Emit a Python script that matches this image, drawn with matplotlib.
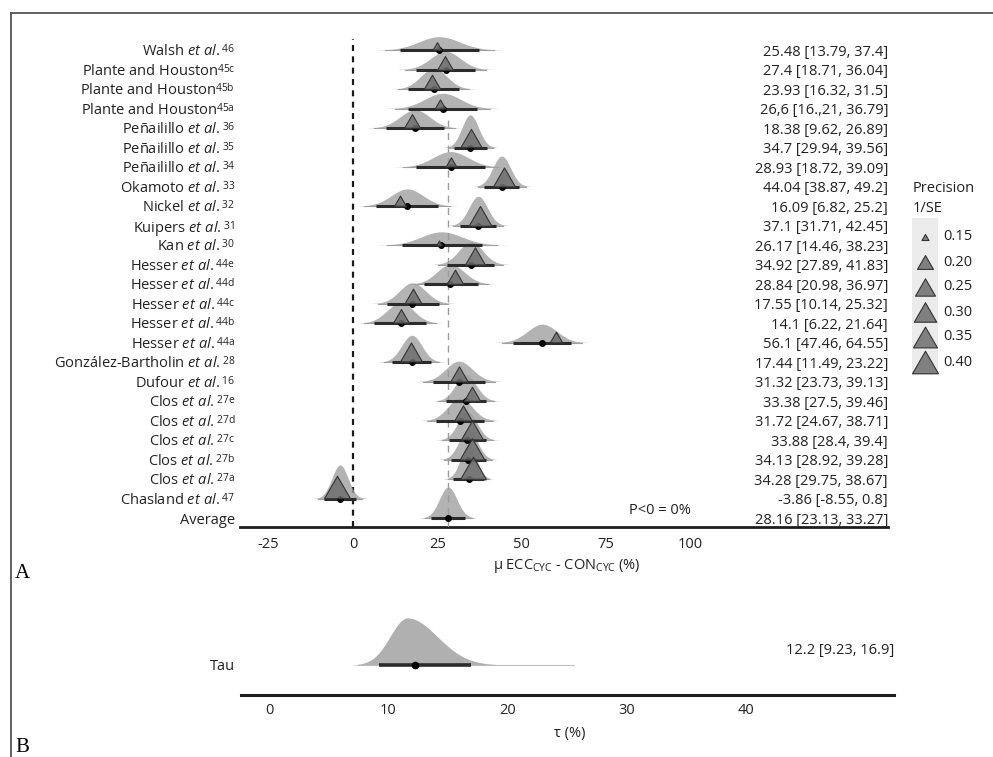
import numpy as np
import matplotlib.pyplot as plt
from matplotlib.path import Path
from matplotlib.lines import Line2D
from matplotlib.patches import Rectangle
from matplotlib.transforms import offset_copy, blended_transform_factory

plt.rcParams['font.family'] = 'Open Sans'
plt.rcParams['mathtext.fontset'] = 'custom'
plt.rcParams['mathtext.rm'] = 'Open Sans'
plt.rcParams['mathtext.it'] = 'Open Sans:italic'
plt.rcParams['mathtext.bf'] = 'Open Sans:bold'

# lower the superscripts a bit (closer to the typeset look)
try:
    import matplotlib._mathtext as mt

    class OpenSansConsts(mt.FontConstantsBase):
        sup1 = 0.42

    mt._font_constant_mapping['Open Sans'] = OpenSansConsts
except Exception:
    pass

# ---- data (top row first) ----
study_labels = [
    r"Walsh $\mathit{et\ al.}^{\mathrm{46}}$",
    r"Plante and Houston$^{\mathrm{45c}}$",
    r"Plante and Houston$^{\mathrm{45b}}$",
    r"Plante and Houston$^{\mathrm{45a}}$",
    r"Peñailillo $\mathit{et\ al.}^{\mathrm{36}}$",
    r"Peñailillo $\mathit{et\ al.}^{\mathrm{35}}$",
    r"Peñailillo $\mathit{et\ al.}^{\mathrm{34}}$",
    r"Okamoto $\mathit{et\ al.}^{\mathrm{33}}$",
    r"Nickel $\mathit{et\ al.}^{\mathrm{32}}$",
    r"Kuipers $\mathit{et\ al.}^{\mathrm{31}}$",
    r"Kan $\mathit{et\ al.}^{\mathrm{30}}$",
    r"Hesser $\mathit{et\ al.}^{\mathrm{44e}}$",
    r"Hesser $\mathit{et\ al.}^{\mathrm{44d}}$",
    r"Hesser $\mathit{et\ al.}^{\mathrm{44c}}$",
    r"Hesser $\mathit{et\ al.}^{\mathrm{44b}}$",
    r"Hesser $\mathit{et\ al.}^{\mathrm{44a}}$",
    r"González-Bartholin $\mathit{et\ al.}^{\mathrm{28}}$",
    r"Dufour $\mathit{et\ al.}^{\mathrm{16}}$",
    r"Clos $\mathit{et\ al.}^{\mathrm{27e}}$",
    r"Clos $\mathit{et\ al.}^{\mathrm{27d}}$",
    r"Clos $\mathit{et\ al.}^{\mathrm{27c}}$",
    r"Clos $\mathit{et\ al.}^{\mathrm{27b}}$",
    r"Clos $\mathit{et\ al.}^{\mathrm{27a}}$",
    r"Chasland $\mathit{et\ al.}^{\mathrm{47}}$",
    "Average",
]
post_mean = [25.48, 27.4, 23.93, 26.6, 18.38, 34.7, 28.93, 44.04, 16.09, 37.1,
             26.17, 34.92, 28.84, 17.55, 14.1, 56.1, 17.44, 31.32, 33.38, 31.72,
             33.88, 34.13, 34.28, -3.86, 28.16]
post_lo = [13.79, 18.71, 16.32, 16.21, 9.62, 29.94, 18.72, 38.87, 6.82, 31.71,
           14.46, 27.89, 20.98, 10.14, 6.22, 47.46, 11.49, 23.73, 27.5, 24.67,
           28.4, 28.92, 29.75, -8.55, 23.13]
post_hi = [37.4, 36.04, 31.5, 36.79, 26.89, 39.56, 39.09, 49.2, 25.2, 42.45,
           38.23, 41.83, 36.97, 25.32, 21.64, 64.55, 23.22, 39.13, 39.46, 38.71,
           39.4, 39.28, 38.67, 0.8, 33.27]
ci_text = ["25.48 [13.79, 37.4]", "27.4 [18.71, 36.04]", "23.93 [16.32, 31.5]",
           "26,6 [16.,21, 36.79]", "18.38 [9.62, 26.89]", "34.7 [29.94, 39.56]",
           "28.93 [18.72, 39.09]", "44.04 [38.87, 49.2]", "16.09 [6.82, 25.2]",
           "37.1 [31.71, 42.45]", "26.17 [14.46, 38.23]", "34.92 [27.89, 41.83]",
           "28.84 [20.98, 36.97]", "17.55 [10.14, 25.32]", "14.1 [6.22, 21.64]",
           "56.1 [47.46, 64.55]", "17.44 [11.49, 23.22]", "31.32 [23.73, 39.13]",
           "33.38 [27.5, 39.46]", "31.72 [24.67, 38.71]", "33.88 [28.4, 39.4]",
           "34.13 [28.92, 39.28]", "34.28 [29.75, 38.67]", "-3.86 [-8.55, 0.8]",
           "28.16 [23.13, 33.27]"]
# observed effects (triangles) and precision 1/SE, no triangle for Average
obs_effect = [24.9, 27.3, 23.4, 25.9, 17.5, 35.0, 29.0, 44.8, 14.0, 37.7, 25.6,
              36.2, 30.3, 17.8, 14.2, 60.0, 17.2, 31.5, 35.3, 32.7, 35.3, 35.3,
              35.6, -4.8]
precision = [0.16, 0.20, 0.21, 0.17, 0.20, 0.27, 0.17, 0.29, 0.18, 0.32, 0.14,
             0.25, 0.21, 0.21, 0.20, 0.18, 0.29, 0.22, 0.21, 0.22, 0.29, 0.37,
             0.40, 0.40]
legend_breaks = [0.15, 0.20, 0.25, 0.30, 0.35, 0.40]
p_text = "P<0 = 0%"

tau_mean, tau_lo, tau_hi = 12.2, 9.23, 16.9
tau_mode, tau_sd_left, tau_sd_right = 11.6, 1.45, 2.5   # shape
tau_tail = [7.5, 25.6]
tau_text = "12.2 [9.23, 16.9]"

# size scale (precision -> triangle width in px)
size_p = [0.13, 0.15, 0.20, 0.25, 0.30, 0.35, 0.40]
size_px = [4.5, 7, 16, 20, 22.5, 24, 26]

def tri_ms(p):
    return np.interp(p, size_p, size_px) * 0.72

tri = Path([(-1, -0.866), (1, -0.866), (0, 0.866), (-1, -0.866)],
           [Path.MOVETO, Path.LINETO, Path.LINETO, Path.CLOSEPOLY])
tri_face = (0.43, 0.43, 0.43, 0.85)

W, H = 993, 757
fig = plt.figure(figsize=(W / 100, H / 100), dpi=100)

def fx(px):
    return px / W

def fy(py):
    return 1 - py / H

# frame
fig.add_artist(Line2D([fx(11), 1], [fy(13), fy(13)], color='#555555', lw=1.3))
fig.add_artist(Line2D([fx(11), fx(11)], [0, fy(13)], color='#555555', lw=1.3))

# ---- panel A ----
ax = fig.add_axes([fx(240), fy(527), fx(888) - fx(240), fy(26.6) - fy(527)])
n = len(study_labels)
ys = [n - 1 - i for i in range(n)]
ax.set_xlim(-33.5, 158.5)
ax.set_ylim(-0.46, 25.2)

avg = post_mean[-1]
ax.plot([0, 0], [-0.46, 24.56], color='#1a1a1a', lw=1.6, ls=(0, (2.7, 2.4)), zorder=1)
ax.plot([avg, avg], [-0.46, 20.5], color='#9b9b9b', lw=1.0, ls=(0, (5, 4)), zorder=3)

for i in range(n):
    y = ys[i]
    m, lo, hi = post_mean[i], post_lo[i], post_hi[i]
    sl, sr = (m - lo) / 1.96, (hi - m) / 1.96
    xs = np.linspace(m - 3.2 * sl, m + 3.2 * sr, 300)
    sd = np.where(xs < m, sl, sr)
    dens = np.exp(-0.5 * ((xs - m) / sd) ** 2) / (0.5 * (sl + sr) * np.sqrt(2 * np.pi))
    ax.fill_between(xs, y, y + 10.3 * dens, color='#a0a0a0', alpha=0.8, lw=0,
                    zorder=2, clip_on=False)

for i in range(n):
    y = ys[i]
    m, lo, hi = post_mean[i], post_lo[i], post_hi[i]
    sl, sr = (m - lo) / 1.96, (hi - m) / 1.96
    ax.plot([m - 2.7 * sl, m + 2.7 * sr], [y, y], color='#a0a0a0', lw=0.8, zorder=4)
    ax.plot([lo, hi], [y, y], color='#2b2b2b', lw=2.2, solid_capstyle='butt', zorder=5)
    ax.plot(m, y, 'o', color='black', ms=4, zorder=6)

for i in range(len(obs_effect)):
    ms = tri_ms(precision[i])
    tr = offset_copy(ax.transData, fig=fig, x=0, y=0.433 * ms, units='points')
    ax.plot(obs_effect[i], ys[i], marker=tri, ms=ms, transform=tr, ls='none',
            mfc=tri_face, mec='#333333', mew=0.8, zorder=7)

ax.set_yticks(ys)
ax.set_yticklabels(study_labels, fontsize=10.5, color='#222222')
ax.set_xticks([-25, 0, 25, 50, 75, 100])
ax.set_xticklabels(['-25', '0', '25', '50', '75', '100'], fontsize=10.5, color='#222222')
ax.tick_params(axis='both', length=0)
ax.tick_params(axis='y', pad=3.5)
ax.tick_params(axis='x', pad=7)
for s in ['top', 'right', 'left']:
    ax.spines[s].set_visible(False)
ax.spines['bottom'].set_linewidth(2.0)
ax.spines['bottom'].set_color('#1e1e1e')

tr_r = blended_transform_factory(ax.transAxes, ax.transData)
for i in range(n):
    ax.text(1.0, ys[i], ci_text[i], transform=tr_r, ha='right', va='center_baseline',
            fontsize=10.5, color='#222222')
ax.text(100, 0.4, p_text, ha='right', va='center', fontsize=10.5, color='#222222')

fig.text(fx(567), fy(566), r"μ ECC$_{\mathrm{CYC}}$ - CON$_{\mathrm{CYC}}$ (%)",
         ha='center', va='center', fontsize=10.5, color='#222222')
fig.text(fx(22), fy(574), 'A', family='Liberation Serif', fontsize=15,
         ha='center', va='center')

# ---- legend ----
lg = fig.add_axes([fx(900), fy(380), fx(990) - fx(900), fy(175) - fy(380)])
lg.set_xlim(900, 990)
lg.set_ylim(380, 175)
lg.axis('off')
lg.text(913, 188, 'Precision', fontsize=10.5, va='center', ha='left', color='#222222')
lg.text(913, 208, '1/SE', fontsize=10.5, va='center', ha='left', color='#222222')
lg.add_patch(Rectangle((912, 218), 26, 157, color='#ebebeb', lw=0))
for k, b in enumerate(legend_breaks):
    yk = 237 + 25 * k
    lg.plot(925, yk, marker=tri, ms=tri_ms(b), mfc=tri_face,
            mec='#333333', mew=0.8, ls='none')
    lg.text(943, yk, f"{b:.2f}", fontsize=10.5, va='center', ha='left', color='#222222')

# ---- panel B ----
bx = fig.add_axes([fx(241), fy(695), fx(894) - fx(241), fy(605) - fy(695)])
bx.set_xlim(-2.35, 52.4)
bx.set_ylim(0, 3)
tx = np.linspace(tau_mode - 3.2 * tau_sd_left, tau_mode + 3.2 * tau_sd_right, 300)
tsd = np.where(tx < tau_mode, tau_sd_left, tau_sd_right)
td = np.exp(-0.5 * ((tx - tau_mode) / tsd) ** 2) * 1.57
bx.fill_between(tx, 1, 1 + td, color='#a3a3a3', alpha=0.85, lw=0, zorder=2)
bx.plot(tau_tail, [1, 1], color='#bdbdbd', lw=0.8, zorder=3)
bx.plot([tau_lo, tau_hi], [1, 1], color='#2b2b2b', lw=2.6, solid_capstyle='butt', zorder=4)
bx.plot(tau_mean, 1, 'o', color='black', ms=4.5, zorder=5)
bx.set_yticks([1])
bx.set_yticklabels(['Tau'], fontsize=10.5, color='#222222')
bx.set_xticks([0, 10, 20, 30, 40])
bx.set_xticklabels(['0', '10', '20', '30', '40'], fontsize=10.5, color='#222222')
bx.tick_params(axis='both', length=0)
bx.tick_params(axis='y', pad=4)
bx.tick_params(axis='x', pad=6)
for s in ['top', 'right', 'left']:
    bx.spines[s].set_visible(False)
bx.spines['bottom'].set_linewidth(2.2)
bx.spines['bottom'].set_color('#1e1e1e')
bx.text(1.0, 1.47, tau_text, transform=blended_transform_factory(bx.transAxes, bx.transData),
        ha='right', va='center', fontsize=10.5, color='#222222')
fig.text(fx(570), fy(733), "τ (%)", ha='center', va='center', fontsize=10.5,
         color='#222222')
fig.text(fx(22), fy(748), 'B', family='Liberation Serif', fontsize=15,
         ha='center', va='center')

fig.savefig('out.png', dpi=100)
